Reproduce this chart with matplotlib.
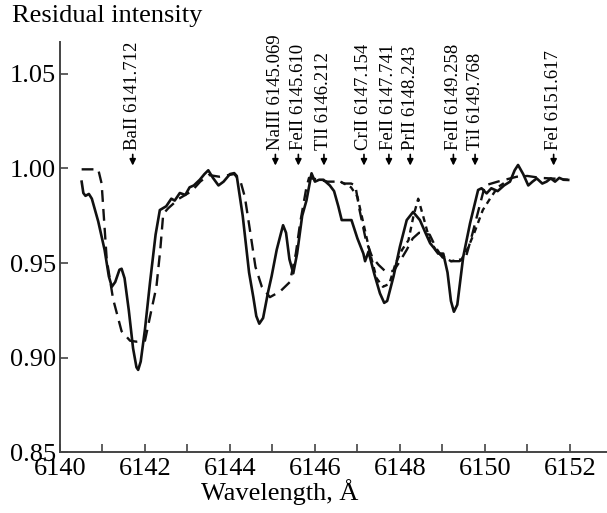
# plot the observed spectrum with two synthetic fits and line marks
import matplotlib.pyplot as plt
import numpy as np

# observed spectrum (solid)
obs_wl = [6140.51, 6140.55, 6140.60, 6140.68, 6140.75, 6140.90, 6141.05, 6141.15, 6141.22, 6141.30,
          6141.40, 6141.45, 6141.52, 6141.62, 6141.72, 6141.80, 6141.84, 6141.90, 6142.00, 6142.12,
          6142.25, 6142.35, 6142.50, 6142.62, 6142.70, 6142.82, 6142.95, 6143.05, 6143.15, 6143.29,
          6143.40, 6143.49, 6143.60, 6143.73, 6143.85, 6144.00, 6144.10, 6144.16, 6144.30, 6144.45,
          6144.55, 6144.62, 6144.69, 6144.78, 6144.90, 6144.98, 6145.10, 6145.18, 6145.25, 6145.32,
          6145.40, 6145.49, 6145.58, 6145.70, 6145.80, 6145.92, 6146.00, 6146.10, 6146.20, 6146.35,
          6146.45, 6146.55, 6146.63, 6146.86, 6147.00, 6147.14, 6147.18, 6147.26, 6147.40, 6147.53,
          6147.63, 6147.70, 6147.85, 6148.00, 6148.16, 6148.31, 6148.47, 6148.60, 6148.71, 6148.80,
          6148.90, 6149.02, 6149.12, 6149.20, 6149.27, 6149.35, 6149.49, 6149.65, 6149.84, 6149.92,
          6150.04, 6150.15, 6150.30, 6150.45, 6150.59, 6150.70, 6150.78, 6150.90, 6151.02, 6151.12,
          6151.22, 6151.35, 6151.45, 6151.55, 6151.65, 6151.75, 6151.85, 6151.96]
obs_flux = [0.993, 0.987, 0.9855, 0.9865, 0.984, 0.972, 0.957, 0.943, 0.9375, 0.940,
            0.9465, 0.947, 0.942, 0.925, 0.905, 0.895, 0.8936, 0.898, 0.915, 0.940,
            0.965, 0.978, 0.980, 0.984, 0.983, 0.987, 0.986, 0.990, 0.991, 0.994,
            0.997, 0.999, 0.995, 0.991, 0.993, 0.997, 0.9975, 0.996, 0.975, 0.945,
            0.932, 0.922, 0.918, 0.921, 0.935, 0.943, 0.957, 0.964, 0.970, 0.966,
            0.952, 0.9446, 0.955, 0.975, 0.983, 0.9974, 0.993, 0.994, 0.994, 0.991,
            0.988, 0.980, 0.9727, 0.9727, 0.963, 0.955, 0.951, 0.956, 0.944, 0.934,
            0.929, 0.930, 0.943, 0.9587, 0.9727, 0.977, 0.9727, 0.966, 0.9605, 0.958,
            0.955, 0.955, 0.945, 0.930, 0.9243, 0.928, 0.9534, 0.971, 0.9886, 0.9895,
            0.9868, 0.9895, 0.988, 0.991, 0.993, 0.999, 1.0018, 0.997, 0.991, 0.993,
            0.9947, 0.992, 0.993, 0.9947, 0.993, 0.995, 0.994, 0.9939]

# synthetic spectrum 1 (long dashes)
syn1_wl = [6140.51, 6140.90, 6140.98, 6141.10, 6141.25, 6141.45, 6141.65, 6141.80, 6142.00, 6142.15,
           6142.27, 6142.36, 6142.43, 6142.55, 6142.80, 6143.10, 6143.30, 6143.50, 6143.75, 6144.10,
           6144.25, 6144.35, 6144.48, 6144.60, 6144.75, 6144.94, 6145.18, 6145.41, 6145.55, 6145.65,
           6145.80, 6145.86, 6146.10, 6146.30, 6146.55, 6146.70, 6146.85, 6146.95, 6147.05, 6147.20,
           6147.35, 6147.50, 6147.65, 6147.85, 6148.00, 6148.16, 6148.30, 6148.45, 6148.70, 6148.85,
           6149.00, 6149.18, 6149.40, 6149.55, 6149.70, 6149.85, 6150.00, 6150.30, 6150.75, 6151.00,
           6151.30, 6151.70, 6151.95]
syn1_flux = [0.9995, 0.9995, 0.992, 0.952, 0.931, 0.914, 0.909, 0.9085, 0.909, 0.925,
             0.9375, 0.957, 0.976, 0.979, 0.984, 0.988, 0.993, 0.9965, 0.9956, 0.997,
             0.993, 0.985, 0.966, 0.948, 0.9375, 0.932, 0.935, 0.940, 0.955, 0.971,
             0.990, 0.995, 0.994, 0.993, 0.993, 0.992, 0.992, 0.991, 0.978, 0.962,
             0.953, 0.949, 0.9458, 0.9458, 0.951, 0.957, 0.963, 0.966, 0.965, 0.958,
             0.953, 0.951, 0.951, 0.953, 0.965, 0.978, 0.991, 0.993, 0.9956, 0.996,
             0.995, 0.9945, 0.994]

# synthetic spectrum 2 (short dashes), only where it differs from the first
syn2_wl = [6146.60, 6146.85, 6147.00, 6147.15, 6147.30, 6147.45, 6147.60, 6147.75, 6147.90, 6148.05,
           6148.20, 6148.32, 6148.43, 6148.55, 6148.70, 6148.90, 6149.05, 6149.20, 6149.45, 6149.60,
           6149.75, 6149.95, 6150.12, 6150.30, 6150.50]
syn2_flux = [0.993, 0.990, 0.985, 0.970, 0.955, 0.942, 0.9375, 0.939, 0.950, 0.957,
             0.962, 0.975, 0.984, 0.9745, 0.962, 0.955, 0.953, 0.951, 0.952, 0.958,
             0.966, 0.978, 0.984, 0.990, 0.993]

# identified lines
line_names = ['BaII 6141.712', 'NaIII 6145.069', 'FeII 6145.610', 'TlI 6146.212', 'CrII 6147.154',
              'FeII 6147.741', 'PrII 6148.243', 'FeII 6149.258', 'TiI 6149.768', 'FeI 6151.617']
line_wl = [6141.712, 6145.069, 6145.610, 6146.212, 6147.154,
           6147.741, 6148.243, 6149.258, 6149.768, 6151.617]

plt.rcParams['font.family'] = ['Liberation Serif', 'DejaVu Serif']

fig = plt.figure(figsize=(6.07, 5.13), dpi=100)
ax = fig.add_axes([0.0988, 0.118, 0.901, 0.800])

ax.plot(obs_wl, obs_flux, color='#111111', lw=1.9, solid_joinstyle='round')
ax.plot(syn1_wl, syn1_flux, color='#111111', lw=1.7, dashes=(5, 3))
ax.plot(syn2_wl, syn2_flux, color='#111111', lw=1.7, dashes=(2.5, 2))

# line marks: arrow pointing down with the label above it
tip = 1.0015
for name, wl in zip(line_names, line_wl):
    ax.annotate(name, xy=(wl, tip), xytext=(0, 11), textcoords='offset points',
                rotation=90, ha='center', va='bottom', fontsize=13.5,
                arrowprops=dict(arrowstyle='-|>', color='k', lw=1.2,
                                mutation_scale=9, shrinkA=1, shrinkB=0))

ax.set_xlim(6140, 6152.87)
ax.set_ylim(0.85, 1.0667)
ax.set_xticks(np.arange(6140, 6153, 2))
ax.set_xticks(np.arange(6141, 6153, 2), minor=True)
ax.set_yticks([0.85, 0.90, 0.95, 1.00, 1.05])
ax.set_yticklabels(['0.85', '0.90', '0.95', '1.00', '1.05'])

for side in ['top', 'right']:
    ax.spines[side].set_visible(False)
for side in ['left', 'bottom']:
    ax.spines[side].set_color('#444444')
    ax.spines[side].set_linewidth(1.4)
ax.tick_params(which='both', direction='in', length=6, width=1.2, color='#444444',
               labelsize=19)
ax.tick_params(axis='x', pad=4)
ax.tick_params(axis='y', pad=3)

fig.text(0.02, 0.99, 'Residual intensity', fontsize=19, ha='left', va='top')
fig.text(0.46, 0.026, 'Wavelength, Å', fontsize=19, ha='center', va='baseline')

fig.savefig('out.png', dpi=100)
